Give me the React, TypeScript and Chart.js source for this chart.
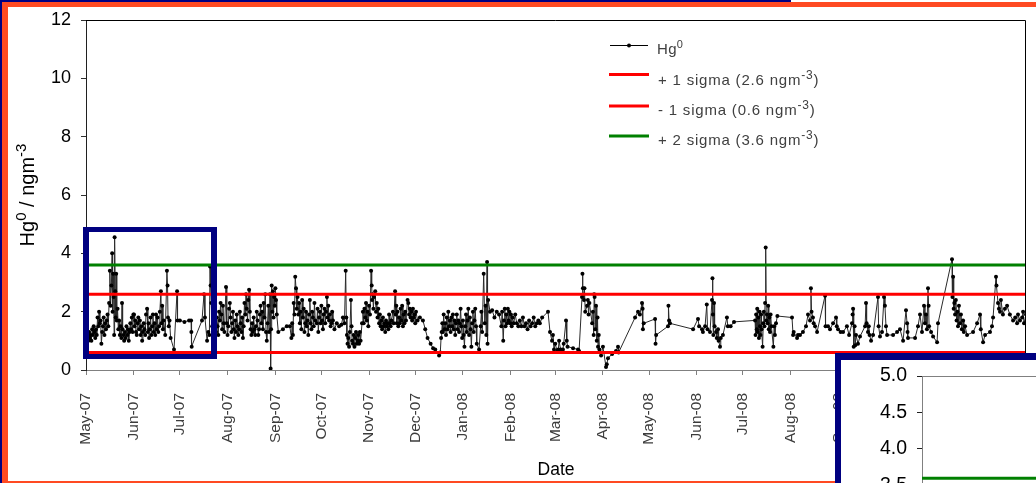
import { useEffect, useRef } from 'react';
import { Chart, registerables } from 'chart.js';

Chart.register(...registerables);

const FONT = "'Liberation Sans', Arial, sans-serif";

// ---- Axis / reference values ----
const monthOffsets = [0, 31, 61, 92, 123, 153, 184, 214, 245, 276, 305, 336, 366, 397, 427, 458, 489, 519, 550, 580, 611];
const monthLabels = ['May-07', 'Jun-07', 'Jul-07', 'Aug-07', 'Sep-07', 'Oct-07', 'Nov-07', 'Dec-07', 'Jan-08', 'Feb-08', 'Mar-08', 'Apr-08', 'May-08', 'Jun-08', 'Jul-08', 'Aug-08', 'Sep-08', 'Oct-08', 'Nov-08', 'Dec-08', 'Jan-09'];
const yMin = 0;
const yMax = 12;
const yStep = 2;
const insetYMin = 0;
const insetYMax = 5;
const insetYStep = 0.5;
const insetDayMax = 92;

const sigmaPlus1 = 2.6;
const sigmaMinus1 = 0.6;
const sigmaPlus2 = 3.6;

// ---- Hg0 series: [days since 1 May 2007, ng m-3] ----
const hgMay07 = [[0,1.6],[0.5,1.1],[1,1.2],[1.5,1.0],[2,1.3],[2.5,1.1],[3,1.2],[3.5,1.0],[4,1.4],[4.5,1.2],[5,1.5],[5.5,1.3],[6,1.1],[6.5,1.4],[7,1.2],[7.5,1.8],[8,1.5],[8.5,2.0],[9,1.6],[9.5,1.7],[10,0.9],[10.5,1.3],[11,1.5],[11.5,1.8],[12,1.2],[12.5,1.6],[13,1.4],[13.5,1.7],[14,1.9],[14.5,1.5],[15,2.3],[15.5,3.4],[16,2.2],[16.5,2.9],[17,4.0],[17.3,2.0],[17.6,3.3],[18,2.5],[18.3,1.2],[18.6,4.55],[19,2.7],[19.3,1.8],[19.6,3.3],[20,1.7],[20.5,2.1],[21,1.4],[21.5,1.7],[22,1.2],[22.5,1.5],[23,1.1],[23.4,2.3],[23.8,1.4],[24.3,1.2],[24.8,1.0],[25.3,1.3],[25.8,1.1],[26.3,1.5],[26.8,1.2],[27.3,1.4],[27.8,1.0],[28.3,1.3],[28.8,1.6],[29.3,1.4],[29.8,1.8],[30.3,1.3],[30.8,1.9]];
const hgJun07 = [[31.2,1.9],[31.6,1.5],[32,1.7],[32.5,1.3],[33,1.2],[33.5,1.6],[34,1.8],[34.5,1.4],[35,1.7],[35.5,1.2],[36,1.5],[36.5,1.0],[37,1.3],[37.5,1.6],[38,1.4],[38.5,1.2],[39,1.9],[39.7,2.1],[40.2,1.3],[40.6,1.6],[41,1.1],[41.5,1.4],[42,1.8],[42.5,1.2],[43,1.5],[43.5,1.9],[44,1.3],[44.5,1.6],[45,1.2],[45.5,1.9],[46,1.4],[46.5,1.8],[47,1.3],[47.5,1.5],[48,2.0],[48.7,2.7],[49,1.6],[49.5,2.2],[50,1.4],[50.5,1.7],[51.5,1.2],[52.6,3.4],[53,2.9],[53.3,1.8],[53.8,1.5],[54.3,1.7],[55,1.1],[57.2,0.7],[59.2,2.7],[59.5,1.7],[61,1.7]];
const hgJul07 = [[64,1.65],[67,1.7],[68.3,1.7],[68.5,1.3],[68.7,0.8],[75.4,1.7],[76.7,2.6],[77.3,1.8],[78.7,1.0],[79.5,1.3],[80.2,1.2],[80.6,3.55],[81,2.9],[81.4,2.3],[82,1.5],[82.5,1.2],[83,1.4],[83.5,1.1],[84,1.6],[84.5,1.3],[85,1.8],[85.5,1.5],[86,1.2],[86.5,2.0],[87,1.7],[87.5,2.3],[88,1.9],[88.5,1.4],[89,2.2],[89.5,1.6],[90,1.3],[91,2.85],[91.5,1.6]];
const hgAug07 = [[92,1.2],[92.5,1.5],[93,2.1],[93.5,2.3],[94,1.8],[94.5,1.3],[95,1.6],[95.5,2.0],[96,1.4],[96.5,1.1],[97,1.7],[97.5,1.3],[98,1.9],[98.5,1.5],[99,1.2],[99.5,1.4],[100,2.0],[100.5,1.6],[101,1.3],[101.5,1.8],[102,1.1],[102.5,1.5],[103,2.3],[103.5,1.9],[104,2.6],[104.5,2.1],[105,1.7],[105.5,2.4],[106,2.75],[106.5,2.0],[107,1.4],[107.5,1.2],[108,1.6],[108.5,1.3],[109,1.8],[109.5,1.4],[110,1.2],[110.5,1.5],[111,2.0],[111.5,1.7],[112,1.2],[112.5,1.4],[113,1.9],[113.5,2.2],[114,1.6],[114.5,2.0],[115,1.4],[115.5,2.3],[116,1.8],[116.5,2.6],[117,1.3],[117.5,1.0],[118,1.6],[118.5,2.2],[119,1.3],[119.6,2.6],[120,0.05],[120.3,1.4],[120.7,2.9],[121.1,2.0],[121.5,2.7],[121.9,1.8],[122.3,2.5],[122.7,2.2]];
const hgSep07 = [[123.1,2.8],[123.5,2.4],[124,1.9],[125,1.3],[128,1.4],[130.5,1.5],[132.5,1.5],[133.5,1.1],[134,1.6],[134.5,1.2],[135,2.3],[135.5,1.9],[136,3.2],[136.5,2.8],[137,2.1],[137.5,2.5],[138,1.9],[138.5,2.3],[139,1.6],[139.5,2.0],[140,1.4],[140.5,2.4],[141,1.8],[141.5,2.1],[142,1.3],[142.5,1.6],[143,2.0],[143.5,1.5],[144,1.7],[144.5,1.2],[145,1.9],[145.5,2.4],[146,1.6],[146.5,1.4],[147,2.0],[147.5,1.8],[148,1.5],[148.5,2.3],[149,1.7],[150,1.6],[150.5,2.1],[151,1.3],[151.5,1.8],[152,2.0],[152.5,1.6]];
const hgOct07 = [[153,2.2],[153.5,1.7],[154,1.4],[154.5,1.9],[155,2.1],[155.5,1.6],[156,2.0],[156.6,2.5],[157,1.8],[157.5,2.2],[158,1.7],[158.5,1.9],[159,1.5],[159.5,1.6],[160,2.0],[160.5,1.7],[161.5,1.4],[163,1.6],[164.5,1.5],[166,1.55],[167,1.8],[168,1.6],[168.8,3.4],[169.2,1.8],[169.6,1.2],[170,0.9],[170.5,1.1],[171,0.8],[171.5,1.3],[172.2,2.4],[172.6,1.5],[173,1.0],[173.5,0.9],[174,1.2],[174.5,0.8],[175,1.1],[175.5,1.3],[176,0.9],[176.5,1.0],[177,1.2],[177.5,0.9],[178,1.3],[178.5,1.0],[179.4,1.6],[180,2.0],[180.5,1.6],[181,2.1],[181.5,1.8],[182,2.3],[182.5,1.7],[183,2.0],[183.5,1.5]];
const hgNov07 = [[184,2.2],[184.6,1.9],[185.3,3.4],[185.7,2.9],[186,2.4],[186.4,2.6],[186.8,2.1],[187.2,2.5],[188,2.7],[188.5,2.0],[189,2.3],[189.5,1.8],[190,2.1],[190.5,1.6],[191,1.9],[191.5,1.5],[192,1.7],[192.5,1.4],[193,1.8],[193.5,1.5],[194,1.6],[194.5,1.3],[195,1.7],[195.5,1.5],[196,1.6],[196.5,1.4],[197,1.9],[197.5,1.6],[198,1.5],[198.5,1.7],[199.5,2.0],[200,1.6],[200.9,2.7],[201.3,1.9],[201.7,2.2],[202,1.6],[202.5,2.0],[203,1.5],[203.5,1.8],[204,1.6],[204.5,2.1],[205,1.7],[205.5,2.2],[206,1.5],[206.5,1.9],[207,1.6],[207.5,2.0],[208,1.7],[209,2.4],[209.5,2.3],[210,1.9],[210.5,2.1],[211,1.8],[211.5,2.0],[212,1.7],[212.5,2.1],[213,1.8],[213.5,1.9]];
const hgDec07 = [[214,1.6],[214.5,2.0],[215.5,1.7],[217,1.8],[219,1.7],[220.5,1.4],[222,1.1],[224,0.9],[225.6,0.75],[227,0.7],[229.5,0.5],[230.3,0.6],[230.8,1.1],[231.2,1.3],[231.6,1.6],[232,1.3],[232.5,1.9],[233,1.4],[233.5,1.6],[234,1.2],[234.5,1.8],[235,1.4],[235.5,2.0],[236,1.5],[236.5,1.7],[237,1.3],[237.5,1.8],[238,1.5],[238.5,1.9],[239,1.4],[239.5,1.7],[240,1.2],[240.5,1.6],[241,1.9],[241.5,1.4],[242,1.7],[242.5,1.3],[243,1.6],[243.5,2.1],[244,1.5],[244.5,1.1]];
const hgJan08 = [[245,1.7],[245.5,1.2],[246,0.8],[246.5,1.5],[247,1.9],[247.5,1.3],[248,1.7],[248.5,2.1],[249,1.2],[249.5,1.8],[250,1.4],[250.5,0.8],[251,1.6],[251.5,2.0],[252,1.3],[252.5,1.7],[253,2.1],[253.5,1.5],[254,0.9],[255.5,0.7],[256.5,1.5],[257,2.0],[257.5,1.3],[258.5,3.3],[259.2,1.6],[259.7,2.2],[260.2,1.2],[260.7,3.7],[261,0.9],[261.4,2.4],[262.6,2.0],[264,2.05],[265.5,1.8],[267,2.0],[268.5,1.9],[270,1.5],[270.5,2.0],[271.2,1.0],[271.7,1.7],[272.2,2.1],[272.7,1.5],[273.2,1.9],[273.7,1.6],[274.2,2.1],[274.7,1.7],[275.2,2.0],[275.7,1.6]];
const hgFeb08 = [[276.2,1.9],[276.7,1.5],[277.2,1.8],[278,1.6],[279,1.9],[280,1.6],[281,1.5],[282,1.7],[283,1.5],[284,1.8],[285,1.5],[286,1.6],[287,1.4],[288,1.7],[289,1.5],[290,1.6],[291,1.8],[292,1.5],[293,1.6],[294,1.7],[295,1.6],[296.5,1.8],[300.3,2.0],[301.6,1.3],[302.9,1.0],[303.5,1.2],[304.2,0.7],[305,0.9]];
const hgMar08 = [[306.2,0.65],[307,0.7],[307.5,1.0],[308.5,0.7],[310,0.7],[310.5,0.9],[312,1.7],[312.5,1.0],[313,0.8],[316.6,0.75],[319.8,0.7],[320.5,0.65],[322.4,2.5],[322.7,3.3],[323,2.8],[323.7,2.4],[324,2.8],[324.5,2.0],[325.7,2.2],[326.2,2.4],[326.7,1.9],[327.2,2.3],[329,1.6],[329.5,2.0],[330,1.2],[330.3,2.6],[330.6,2.5],[331,1.4],[331.5,2.2],[332,1.0],[332.5,1.8],[332.8,0.8],[333.3,1.2],[333.7,0.7],[334.8,0.5],[336,0.8]];
const hgApr08 = [[338,0.1],[338.5,0.2],[339.3,0.4],[342,0.55],[344.5,0.65],[345.8,0.8],[346.2,0.6],[356.9,1.8],[358.8,2.0],[360,1.9],[361.4,2.3],[361.8,2.1],[362,1.4],[362.5,1.6]];
const hgMay08 = [[369.9,1.75],[370.2,0.9],[370.6,1.2],[378.3,1.5],[378.6,2.2],[379,1.7],[379.6,1.6],[394.6,1.4]];
const hgJun08 = [[397.8,1.75],[398.5,1.5],[400.4,1.4],[401,1.3],[402.4,1.5],[403.5,2.25],[404,1.4],[405.6,1.3],[406.9,2.4],[407.2,3.15],[407.5,1.9],[407.8,1.2],[408.2,2.3],[408.6,1.5],[409.5,1.3],[410,1.1],[410.8,1.4],[411.2,1.0],[412.1,0.8],[412.6,1.1],[414,1.2],[416.6,1.8],[417.2,1.5],[419,1.5],[421.2,1.65]];
const hgJul08 = [[434.9,1.7],[435.2,1.2],[435.6,1.9],[436,1.4],[436.3,2.1],[436.6,1.3],[437,1.8],[437.4,1.1],[437.8,2.0],[438.1,1.5],[438.4,1.2],[438.8,1.9],[439.1,1.4],[439.8,0.8],[440.2,1.6],[440.6,2.0],[441,1.5],[441.4,2.3],[441.8,4.2],[442.2,1.7],[442.6,1.9],[443,1.6],[443.4,2.2],[443.8,1.4],[444.2,1.8],[444.6,1.3],[445,1.9],[445.5,1.5],[446.8,0.8],[447.3,1.5],[447.8,1.2],[448.5,1.6],[449.4,1.85]];
const hgAug08 = [[458.9,1.8],[459.6,1.2],[460,1.3],[462.2,1.1],[462.8,1.2],[464.1,1.2],[466,1.3],[468,1.5],[469.3,1.9],[470.6,1.7],[471.2,2.8],[471.6,2.0],[472.5,1.8],[473,1.6],[473.9,1.5],[475.2,1.3],[480.4,2.55],[480.7,1.5],[482.3,1.5],[483.6,1.4],[485.6,1.6],[487.5,1.8],[488,1.5],[488.8,1.4]];
const hgSep08 = [[490.5,1.3],[492.1,1.3],[494.6,1.5],[496,1.2],[497.9,1.6],[498.3,1.9],[498.6,2.1],[499,0.8],[499.6,1.5],[500,0.85],[500.5,1.2],[501.8,0.9],[503.1,1.15],[506.4,1.5],[507,2.3],[507.4,1.6],[508.3,1.3],[508.8,1.5],[509.3,1.2],[510.3,1.0],[511.6,1.2],[514.8,2.5],[515.2,1.5],[516.1,1.15],[517.4,1.3],[518.7,2.5],[519.3,2.2]];
const hgOct08 = [[520,1.5],[520.7,1.2],[524.6,1.2],[527.2,1.3],[529.1,1.4],[531.1,1.0],[533,2.05],[533.7,1.6],[534,1.3],[534.3,1.1],[538.9,1.1],[540.8,1.5],[542.1,1.9],[543.4,1.3],[544.7,2.2],[545.3,1.6],[546,1.9],[546.6,1.4],[547.3,2.8],[547.7,2.2],[548,1.5],[549.3,1.3]];
const hgNov08 = [[550.6,1.15],[553.2,0.95],[553.8,1.6],[562.9,3.8],[563.2,2.5],[563.6,3.2],[564,2.1],[564.4,2.3],[564.9,1.9],[565.4,2.4],[565.9,1.7],[566.4,2.0],[566.8,1.5],[567.4,2.2],[568.1,1.6],[568.7,1.9],[569.3,1.4],[570.1,1.7],[570.6,1.3],[571.4,1.5],[572.7,1.2],[576.6,1.3],[579.2,1.6]];
const hgDec08 = [[581.1,1.9],[581.6,1.4],[583.1,0.95],[584.4,1.2],[587.6,1.3],[588.9,1.5],[589.6,1.8],[591.5,3.2],[591.8,2.9],[592.8,2.3],[593.4,2.1],[594.1,2.0],[594.7,2.4],[596,1.9],[597.3,2.1],[598.7,2.2],[600.5,1.9],[602.6,1.7],[604,1.8],[605.2,1.6],[605.8,1.9],[607.1,1.7],[608.5,1.8],[609.1,2.0],[609.7,1.6],[611,1.9]];

const hgSegments = [hgMay07, hgJun07, hgJul07, hgAug07, hgSep07, hgOct07, hgNov07, hgDec07, hgJan08, hgFeb08, hgMar08, hgApr08, hgMay08, hgJun08, hgJul08, hgAug08, hgSep08, hgOct08, hgNov08, hgDec08];

type Part = { text: string; sup?: boolean };
const legendEntries: { parts: Part[]; color: string; kind: 'marker' | 'line' }[] = [
  { parts: [{ text: 'Hg' }, { text: '0', sup: true }], color: '#000000', kind: 'marker' },
  { parts: [{ text: `+ 1 sigma (${sigmaPlus1} ngm` }, { text: '-3', sup: true }, { text: ')' }], color: '#ff0000', kind: 'line' },
  { parts: [{ text: `- 1 sigma (${sigmaMinus1} ngm` }, { text: '-3', sup: true }, { text: ')' }], color: '#ff0000', kind: 'line' },
  { parts: [{ text: `+ 2 sigma (${sigmaPlus2} ngm` }, { text: '-3', sup: true }, { text: ')' }], color: '#008000', kind: 'line' },
];
const yTitleParts: Part[] = [{ text: 'Hg' }, { text: '0', sup: true }, { text: ' / ngm' }, { text: '-3', sup: true }];

function partsWidth(ctx: CanvasRenderingContext2D, parts: Part[], size: number, supSize: number) {
  let w = 0;
  for (const p of parts) {
    ctx.font = `${p.sup ? supSize : size}px ${FONT}`;
    w += ctx.measureText(p.text).width;
  }
  return w;
}

function drawParts(ctx: CanvasRenderingContext2D, parts: Part[], x: number, y: number, size: number, supSize: number, rise: number, color: string) {
  let cx = x;
  ctx.fillStyle = color;
  ctx.textBaseline = 'alphabetic';
  ctx.textAlign = 'left';
  for (const p of parts) {
    ctx.font = `${p.sup ? supSize : size}px ${FONT}`;
    ctx.fillText(p.text, cx, p.sup ? y - rise : y);
    cx += ctx.measureText(p.text).width;
  }
}

// legend text with a little extra tracking between glyphs, as in the original
function drawSpaced(ctx: CanvasRenderingContext2D, parts: Part[], x: number, y: number, size: number, supSize: number, rise: number, color: string, spacing: number) {
  let cx = x;
  ctx.fillStyle = color;
  ctx.textBaseline = 'alphabetic';
  ctx.textAlign = 'left';
  for (const p of parts) {
    ctx.font = `${p.sup ? supSize : size}px ${FONT}`;
    const yy = p.sup ? y - rise : y;
    for (const ch of p.text) {
      ctx.fillText(ch, cx, yy);
      cx += ctx.measureText(ch).width + spacing;
    }
  }
}

function sigmaDataset(value: number, color: string, xMax: number) {
  return {
    data: [{ x: 0, y: value }, { x: xMax, y: value }],
    borderColor: color,
    borderWidth: 3,
    pointRadius: 0,
    order: 0,
  };
}

function zeroPadding(scale: any) {
  scale.paddingTop = 0;
  scale.paddingBottom = 0;
  scale.paddingLeft = 0;
  scale.paddingRight = 0;
}

const mainDecor = {
  id: 'mainDecor',
  afterDraw(chart: any) {
    const { ctx, chartArea: a } = chart;
    ctx.save();
    // plot frame (top and right)
    ctx.strokeStyle = '#000';
    ctx.lineWidth = 1;
    const t = Math.round(a.top) + 0.5;
    const r = Math.round(a.right) - 0.5;
    ctx.beginPath();
    ctx.moveTo(a.left, t);
    ctx.lineTo(r, t);
    ctx.lineTo(r, a.bottom);
    ctx.stroke();

    // y axis title
    ctx.save();
    ctx.translate(25.5, 188);
    ctx.rotate(-Math.PI / 2);
    const w = partsWidth(ctx, yTitleParts, 20, 15);
    drawParts(ctx, yTitleParts, -w / 2, 0, 20, 15, 8, '#000');
    ctx.restore();

    // legend
    const rowY = [38, 67.5, 99, 129];
    const textY = [47, 78, 108, 138];
    legendEntries.forEach((e, i) => {
      const y = rowY[i];
      if (e.kind === 'marker') {
        ctx.strokeStyle = '#000';
        ctx.lineWidth = 1;
        ctx.beginPath();
        ctx.moveTo(602, y + 0.5);
        ctx.lineTo(640, y + 0.5);
        ctx.stroke();
        ctx.fillStyle = '#000';
        ctx.beginPath();
        ctx.arc(621, y + 0.5, 2, 0, Math.PI * 2);
        ctx.fill();
        drawSpaced(ctx, e.parts, 649, textY[i], 15, 11, 6, '#404040', 0.3);
      } else {
        ctx.strokeStyle = e.color;
        ctx.lineWidth = 3;
        ctx.beginPath();
        ctx.moveTo(601, y);
        ctx.lineTo(641, y);
        ctx.stroke();
        drawSpaced(ctx, e.parts, 650, textY[i], 15, 12, 6, '#404040', 0.8);
      }
    });
    ctx.restore();
  },
};

const insetDecor = {
  id: 'insetDecor',
  afterDraw(chart: any) {
    const { ctx, chartArea: a } = chart;
    ctx.save();
    ctx.strokeStyle = '#808080';
    ctx.lineWidth = 1;
    const t = Math.round(a.top) + 0.5;
    ctx.beginPath();
    ctx.moveTo(a.left, t);
    ctx.lineTo(a.right, t);
    ctx.stroke();
    ctx.restore();
  },
};

export default function App() {
  const mainRef = useRef<HTMLCanvasElement>(null);
  const insetRef = useRef<HTMLCanvasElement>(null);

  useEffect(() => {
    const hgPoints = hgSegments.flat().map(([x, y]) => ({ x, y }));
    const xMax = monthOffsets[monthOffsets.length - 1];

    const main = new Chart(mainRef.current!, {
      type: 'line',
      data: {
        datasets: [
          {
            label: 'Hg0',
            data: hgPoints,
            borderColor: '#2a2a2a',
            borderWidth: 1,
            pointRadius: 2,
            pointBorderWidth: 0,
            pointBackgroundColor: '#000',
            order: 1,
          } as any,
          sigmaDataset(sigmaPlus1, '#ff0000', xMax),
          sigmaDataset(sigmaMinus1, '#ff0000', xMax),
          sigmaDataset(sigmaPlus2, '#008000', xMax),
        ],
      },
      options: {
        animation: false,
        responsive: false,
        events: [],
        layout: { padding: { left: 0, top: 13, right: 10, bottom: 0 } },
        plugins: { legend: { display: false }, tooltip: { enabled: false } },
        scales: {
          x: {
            type: 'linear',
            min: 0,
            max: xMax,
            afterBuildTicks: (scale: any) => {
              scale.ticks = monthOffsets.map((v) => ({ value: v }));
            },
            afterFit: (scale: any) => {
              scale.height = 111;
              zeroPadding(scale);
            },
            ticks: {
              autoSkip: false,
              minRotation: 90,
              maxRotation: 90,
              padding: 18,
              color: '#3c3c3c',
              font: { family: FONT, size: 15.5 },
              callback: (value: any) => monthLabels[monthOffsets.indexOf(Number(value))] ?? '',
            },
            grid: { drawOnChartArea: false, drawTicks: true, tickLength: 5, color: '#808080' },
            border: { display: true, color: '#808080', width: 1 },
            title: {
              display: true,
              text: 'Date',
              color: '#000',
              font: { family: FONT, size: 17.5 },
              padding: { top: 0, bottom: 0 },
            },
          },
          y: {
            type: 'linear',
            min: yMin,
            max: yMax,
            afterFit: (scale: any) => {
              scale.width = 78;
              zeroPadding(scale);
            },
            ticks: {
              stepSize: yStep,
              padding: 10,
              color: '#000',
              font: { family: FONT, size: 18 },
            },
            grid: { drawOnChartArea: false, drawTicks: true, tickLength: 5, color: '#303030' },
            border: { display: true, color: '#202020', width: 1 },
          },
        },
      },
      plugins: [mainDecor],
    });

    const insetPoints = hgPoints.filter((p) => p.x <= insetDayMax);
    const inset = new Chart(insetRef.current!, {
      type: 'line',
      data: {
        datasets: [
          {
            label: 'Hg0',
            data: insetPoints,
            borderColor: '#2a2a2a',
            borderWidth: 1,
            pointRadius: 2,
            pointBorderWidth: 0,
            pointBackgroundColor: '#000',
            order: 1,
          } as any,
          sigmaDataset(sigmaPlus1, '#ff0000', insetDayMax),
          sigmaDataset(sigmaMinus1, '#ff0000', insetDayMax),
          sigmaDataset(sigmaPlus2, '#008000', insetDayMax),
        ],
      },
      options: {
        animation: false,
        responsive: false,
        events: [],
        layout: { padding: { left: 0, top: 16, right: 20, bottom: 19 } },
        plugins: { legend: { display: false }, tooltip: { enabled: false } },
        scales: {
          x: { type: 'linear', min: 0, max: insetDayMax, display: false },
          y: {
            type: 'linear',
            min: insetYMin,
            max: insetYMax,
            afterFit: (scale: any) => {
              scale.width = 81;
              zeroPadding(scale);
            },
            ticks: {
              stepSize: insetYStep,
              padding: 10,
              color: '#000',
              font: { family: FONT, size: 19.5 },
              callback: (v: any) => Number(v).toFixed(1),
            },
            grid: { drawOnChartArea: false, drawTicks: true, tickLength: 5, color: '#202020' },
            border: { display: true, color: '#808080', width: 1 },
          },
        },
      },
      plugins: [insetDecor],
    });

    return () => {
      main.destroy();
      inset.destroy();
    };
  }, []);

  return (
    <div style={{ position: 'fixed', left: 0, top: 0, width: 1036, height: 483, overflow: 'hidden', background: '#000080' }}>
      <div style={{ position: 'absolute', left: 2, top: 2, width: 1034, height: 481, background: '#ff4a22' }} />
      <div style={{ position: 'absolute', left: 791, top: 0, width: 245, height: 2, background: '#ffffff' }} />
      <div style={{ position: 'absolute', left: 8, top: 7, width: 1028, height: 474, background: '#ffffff' }}>
        <canvas ref={mainRef} width={1028} height={474} style={{ width: 1028, height: 474, display: 'block' }} />
      </div>
      <div
        style={{
          position: 'absolute',
          left: 83,
          top: 227,
          width: 134,
          height: 132,
          boxSizing: 'border-box',
          borderStyle: 'solid',
          borderColor: '#000080',
          borderWidth: '5px 6px',
        }}
      />
      <div
        style={{
          position: 'absolute',
          left: 835,
          top: 353,
          width: 1000,
          height: 500,
          boxSizing: 'border-box',
          background: '#ffffff',
          borderStyle: 'solid',
          borderColor: '#000080',
          borderWidth: '7px 0 0 6px',
        }}
      >
        <canvas ref={insetRef} width={900} height={400} style={{ width: 900, height: 400, display: 'block' }} />
      </div>
    </div>
  );
}
